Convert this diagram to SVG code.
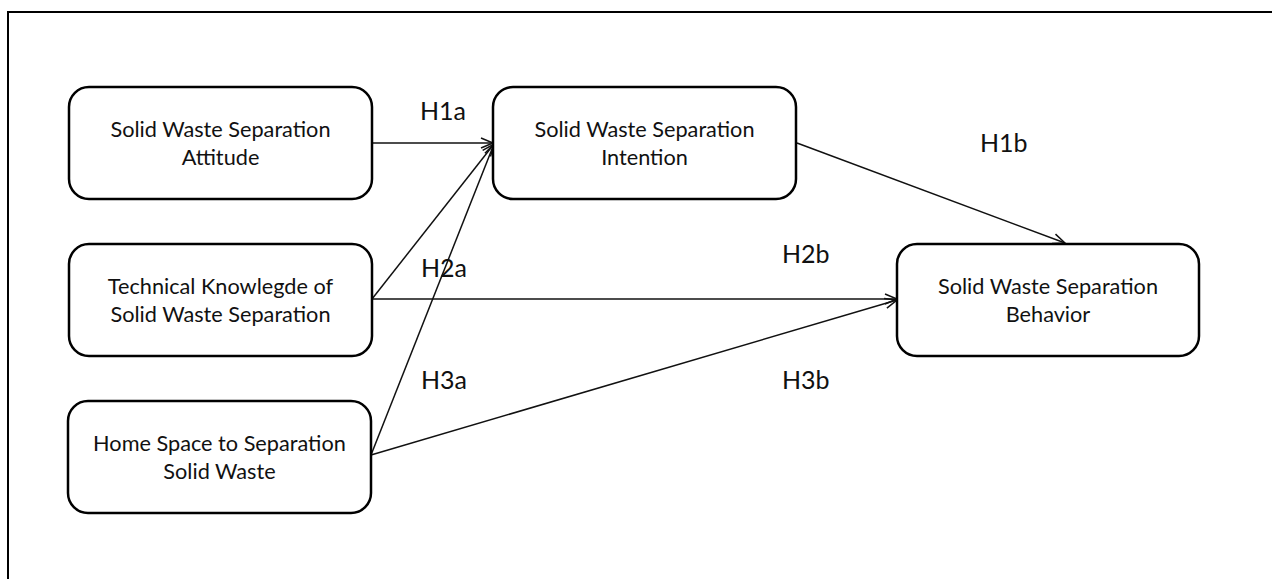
<svg xmlns="http://www.w3.org/2000/svg" width="1272" height="579" viewBox="0 0 1272 579">
<style>
.box{fill:#fff;stroke:#000;stroke-width:2.5}
.t{font-family:Lato,"Liberation Sans",sans-serif;font-size:21.7px;fill:#111;text-anchor:middle}
.lbl{font-family:Lato,"Liberation Sans",sans-serif;font-size:25px;fill:#111}
.c{fill:none;stroke:#111;stroke-width:1.5;marker-end:url(#arr)}
</style>
<defs>
<marker id="arr" markerUnits="userSpaceOnUse" markerWidth="16" markerHeight="14" refX="13" refY="6" orient="auto">
<path d="M1,1 L13,6 L1,11" fill="none" stroke="#111" stroke-width="1.5"/>
</marker>
</defs>
<rect width="1272" height="579" fill="#fff"/>
<path d="M8,579 V12 H1272" fill="none" stroke="#000" stroke-width="2"/>
<g id="connectors">
<line class="c" x1="372" y1="143" x2="493" y2="143"/>
<line class="c" x1="372" y1="299" x2="494" y2="144"/>
<line class="c" x1="371" y1="455" x2="494" y2="144"/>
<line class="c" x1="372" y1="299" x2="897" y2="299"/>
<line class="c" x1="371" y1="455" x2="897" y2="300"/>
<line class="c" x1="797" y1="143" x2="1065" y2="243"/>
</g>
<g id="labels">
<text class="lbl" x="420" y="120">H1a</text>
<text class="lbl" x="980" y="152">H1b</text>
<text class="lbl" x="421" y="277">H2a</text>
<text class="lbl" x="782" y="263">H2b</text>
<text class="lbl" x="421" y="389">H3a</text>
<text class="lbl" x="782" y="389">H3b</text>
</g>
<g id="attitude">
<rect class="box" x="69" y="87" width="303" height="112" rx="20"/>
<text class="t" x="220.5" y="137">Solid Waste Separation</text>
<text class="t" x="220.5" y="165">Attitude</text>
</g>
<g id="intention">
<rect class="box" x="493" y="87" width="303" height="112" rx="20"/>
<text class="t" x="644.5" y="137">Solid Waste Separation</text>
<text class="t" x="644.5" y="165">Intention</text>
</g>
<g id="knowledge">
<rect class="box" x="69" y="244" width="303" height="112" rx="20"/>
<text class="t" x="220.5" y="294">Technical Knowlegde of</text>
<text class="t" x="220.5" y="322">Solid Waste Separation</text>
</g>
<g id="homespace">
<rect class="box" x="68" y="401" width="303" height="112" rx="20"/>
<text class="t" x="219.5" y="451">Home Space to Separation</text>
<text class="t" x="219.5" y="479">Solid Waste</text>
</g>
<g id="behavior">
<rect class="box" x="897" y="244" width="302" height="112" rx="20"/>
<text class="t" x="1048" y="294">Solid Waste Separation</text>
<text class="t" x="1048" y="322">Behavior</text>
</g>
</svg>
